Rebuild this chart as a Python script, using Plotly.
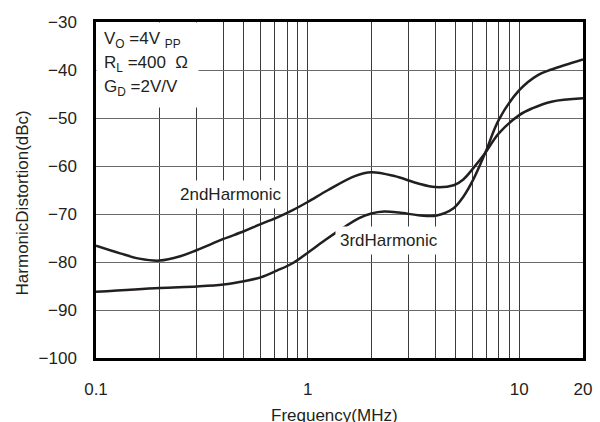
import math
import plotly.graph_objects as go

# ---- data ----
freq_2nd = [0.1, 0.13, 0.16, 0.2, 0.25, 0.3, 0.4, 0.5, 0.6, 0.72, 0.85, 1.0, 1.25, 1.67, 2.0,
            2.57, 3.3, 4.0, 4.9, 5.44, 6.05, 6.9, 8.0, 10, 11.5, 14.2, 20]
hd_2nd = [-76.6, -78.2, -79.3, -79.7, -78.8, -77.5, -75.2, -73.6, -72.1, -70.7, -69.2, -67.5, -65.0, -62.1, -61.3,
          -62.1, -63.6, -64.4, -64.0, -62.8, -60.5, -57.3, -53.2, -49.4, -48.0, -46.6, -45.9]

freq_3rd = [0.1, 0.2, 0.3, 0.4, 0.5, 0.6, 0.715, 0.853, 1.02, 1.22, 1.46, 1.74, 2.0, 2.3, 2.7, 3.42, 4.07,
            4.89, 5.44, 6.05, 6.9, 8.0, 10, 12.3, 14.2, 20]
hd_3rd = [-86.2, -85.4, -85.1, -84.7, -84.0, -83.2, -81.8, -80.2, -77.8, -75.3, -73.0, -70.9, -69.9, -69.5, -69.7,
          -70.3, -70.3, -68.8, -66.4, -62.9, -57.3, -50.4, -44.2, -41.0, -39.9, -37.8]

x_tick_vals = [0.1, 1, 10, 20]
x_tick_text = ["0.1", "1", "10", "20"]
x_minor_grid = [0.2, 0.3, 0.4, 0.5, 0.6, 0.7, 0.8, 0.9, 2, 3, 4, 5, 6, 7, 8, 9]
y_tick_vals = [-100, -90, -80, -70, -60, -50, -40, -30]
y_tick_text = ["\u2212100", "\u221290", "\u221280", "\u221270", "\u221260", "\u221250", "\u221240", "\u221230"]

series_names = ["2ndHarmonic", "3rdHarmonic"]
label_pos = [(0.436, -66.0), (2.43, -75.6)]
conditions = ["V<sub>O</sub> =4V <sub>PP</sub>", "R<sub>L</sub> =400\u00a0 \u03a9", "G<sub>D</sub> =2V/V"]

FONT = "Liberation Sans, Arial, sans-serif"
INK = "#231f20"

fig = go.Figure()
for fx, fy, nm in [(freq_2nd, hd_2nd, series_names[0]), (freq_3rd, hd_3rd, series_names[1])]:
    fig.add_trace(go.Scatter(x=fx, y=fy, mode="lines", name=nm,
                             line=dict(color=INK, width=2.5, shape="spline", smoothing=1.0),
                             showlegend=False, hoverinfo="skip"))

# white box behind conditions text (blank annotation with white background)
fig.add_annotation(xref="x domain", yref="y domain", x=0.0, y=1.0, text=" ", showarrow=False,
                   xanchor="left", yanchor="top", width=101, height=84, bgcolor="white", borderpad=0,
                   font=dict(family=FONT, size=10, color="white"))

cond_y = [0.945, 0.874, 0.803]
for t, yy in zip(conditions, cond_y):
    fig.add_annotation(xref="x domain", yref="y domain", x=0.012, y=yy, text=t, showarrow=False,
                       xanchor="left", yanchor="middle", font=dict(family=FONT, size=17, color=INK))

for nm, (lx, ly) in zip(series_names, label_pos):
    fig.add_annotation(x=math.log10(lx), y=ly, xref="x", yref="y", text=nm, showarrow=False,
                       bgcolor="white", borderpad=4, font=dict(family=FONT, size=17, color=INK))

# axis titles
fig.add_annotation(xref="paper", yref="paper", x=0.49, y=-0.17, text="Frequency(MHz)", showarrow=False,
                   xanchor="center", yanchor="middle", font=dict(family=FONT, size=17, color=INK))
fig.add_annotation(xref="paper", yref="paper", x=-0.152, y=0.463, text="HarmonicDistortion(dBc)",
                   showarrow=False, textangle=-90, xanchor="center", yanchor="middle",
                   font=dict(family=FONT, size=17, color=INK))

fig.update_xaxes(type="log", range=[-1, math.log10(20)],
                 tickvals=x_tick_vals, ticktext=x_tick_text,
                 showgrid=True, gridcolor="#3a3a3a", gridwidth=1,
                 minor=dict(tickvals=x_minor_grid, showgrid=True, gridcolor="#3a3a3a", gridwidth=1, ticks=""),
                 showline=True, linecolor="black", linewidth=2.5, mirror=True,
                 ticks="outside", ticklen=14, tickcolor="rgba(0,0,0,0)", zeroline=False,
                 tickfont=dict(family=FONT, size=17, color=INK))
fig.update_yaxes(range=[-100, -30], tickvals=y_tick_vals, ticktext=y_tick_text,
                 showgrid=True, gridcolor="#6a6a6a", gridwidth=1.3,
                 showline=True, linecolor="black", linewidth=2.5, mirror=True,
                 ticks="outside", ticklen=13, tickcolor="rgba(0,0,0,0)", zeroline=False,
                 tickfont=dict(family=FONT, size=17, color=INK))

fig.update_layout(width=600, height=422, margin=dict(l=96, r=8, t=22, b=64),
                  plot_bgcolor="white", paper_bgcolor="white", showlegend=False)

# remove the browser's default 8px body margin so the 600x422 figure fills the window exactly
fig.write_html("out.html", config={"displayModeBar": False},
               post_script="document.body.style.margin='0';document.body.style.overflow='hidden';")
